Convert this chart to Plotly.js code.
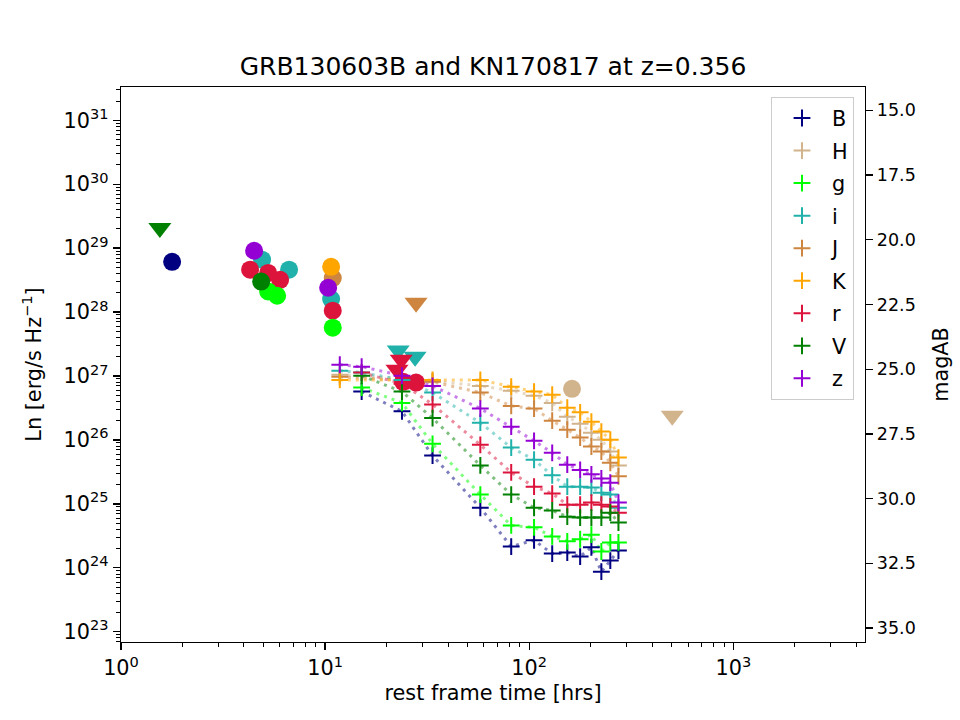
<!DOCTYPE html>
<html>
<head>
<meta charset="utf-8">
<script src="https://cdn.plot.ly/plotly-3.0.1.min.js"></script>
<style>
  html, body { margin: 0; padding: 0; background: #fff; }
  #chart { width: 960px; height: 720px; }
</style>
</head>
<body>
<div id="chart"></div>
<script>
// ---- KN170817 light curves shifted to z=0.356 (rest-frame hours) ----
const knTime = [11.8, 15.1, 23.8, 33.6, 57.6, 81.6, 105.6, 129.6, 153.6, 177.6, 201.6, 225.6, 249.6, 273.6];
// luminosity density Ln [erg/s/Hz] per band; null = no observation at that epoch
const knB = [null, 5.7e26, 2.8e26, 5.7e25, 8.7e24, 2.15e24, 2.7e24, 1.67e24, 1.73e24, 1.5e24, 2.1e24, 8.7e23, 1.3e24, 1.86e24];
const knH = [1.05e27, null, null, 8.4e26, 7.0e26, 5.9e26, 4.9e26, 3.8e26, 2.3e26, 1.8e26, 1.3e26, 1.01e26, 6.6e25, 4.0e25];
const knG = [null, 6.6e26, 3.8e26, 8.7e25, 1.4e25, 4.6e24, 4.3e24, 3.1e24, 2.6e24, 2.8e24, 3.3e24, 1.8e24, 2.5e24, 2.5e24];
const knI = [1.21e27, 1.13e27, 8.7e26, 5.5e26, 1.86e26, 7.6e25, 4.9e25, 2.8e25, 1.86e25, 1.86e25, 1.8e25, 1.5e25, 1.4e25, 8.7e24];
const knJ = [9.7e26, null, null, 8.1e26, 5.5e26, 3.4e26, 3.1e26, 2.0e26, 1.45e26, 1.09e26, 7.9e25, 6.6e25, 4.4e25, 2.7e25];
const knK = [8.7e26, null, null, 8.7e26, 8.7e26, 6.8e26, 5.7e26, 5.1e26, 3.2e26, 2.7e26, 1.93e26, 1.35e26, 1.01e26, 5.3e25];
const knR = [null, 1.13e27, 7.6e26, 3.6e26, 8.4e25, 3.1e25, 1.86e25, 1.45e25, 9.7e24, 9.7e24, 1.05e25, 9.7e24, 9.1e24, 7.3e24];
const knV = [null, 1.01e27, 5.7e26, 2.2e26, 4.0e25, 1.4e25, 8.7e24, 7.9e24, 6.3e24, 6.1e24, 6.1e24, 6.1e24, 7.3e24, 5.1e24];
const knZ = [1.5e27, 1.4e27, 1.01e27, 7.0e26, 3.1e26, 1.61e26, 9.7e25, 6.3e25, 4.1e25, 3.4e25, 2.9e25, 2.5e25, 2.15e25, 1.05e25];

// ---- GRB130603B afterglow detections ----
const grbBand = ['B', 'i', 'i', 'z', 'r', 'r', 'r', 'g', 'g', 'V', 'J', 'K', 'i', 'z', 'r', 'g', 'r', 'r', 'H'];
const grbTime = [1.78, 4.91, 6.66, 4.49, 4.29, 5.26, 6.02, 5.26, 5.82, 4.86, 10.9, 10.7, 10.7, 10.35, 10.9, 10.9, 24.1, 27.9, 162];
const grbLum  = [6.1e28, 6.6e28, 4.6e28, 9.1e28, 4.6e28, 4.1e28, 3.2e28, 2.1e28, 1.8e28, 3.0e28, 3.4e28, 5.1e28, 1.6e28, 2.4e28, 1.05e28, 5.7e27, 8.1e26, 7.9e26, 6.3e26];
// ---- GRB130603B upper limits ----
const limBand = ['V', 'J', 'i', 'i', 'r', 'r', 'H'];
const limTime = [1.55, 27.9, 22.8, 27.6, 23.6, 22.5, 502];
const limLum  = [2.07e29, 1.4e28, 2.5e27, 2.0e27, 1.8e27, 1.25e27, 2.4e26];

// ---- legend order and axis ticks ----
const bands = ['B', 'H', 'g', 'i', 'J', 'K', 'r', 'V', 'z'];
const xTickVals = [1, 10, 100, 1000];
const xTickText = ['10<sup>0</sup>', '10<sup>1</sup>', '10<sup>2</sup>', '10<sup>3</sup>'];
const yTickVals = [1e23, 1e24, 1e25, 1e26, 1e27, 1e28, 1e29, 1e30, 1e31];
const yTickText = ['10<sup>23</sup>', '10<sup>24</sup>', '10<sup>25</sup>', '10<sup>26</sup>', '10<sup>27</sup>',
                   '10<sup>28</sup>', '10<sup>29</sup>', '10<sup>30</sup>', '10<sup>31</sup>'];
const magTickVals = [15.0, 17.5, 20.0, 22.5, 25.0, 27.5, 30.0, 32.5, 35.0];

// ---- styling ----
const bandColor = {
  B: '#000080', H: '#d2b48c', g: '#00ff00', i: '#20b2aa', J: '#cd853f',
  K: '#ffa500', r: '#dc143c', V: '#008000', z: '#9400d3'
};
const knSeries = { B: knB, H: knH, g: knG, i: knI, J: knJ, K: knK, r: knR, V: knV, z: knZ };
const FONT = 'DejaVu Sans, Liberation Sans, sans-serif';
const FS = 20.8;

function rgba(hex, a) {
  const n = parseInt(hex.slice(1), 16);
  return `rgba(${(n >> 16) & 255},${(n >> 8) & 255},${n & 255},${a})`;
}

// minor log ticks between decades
function minorTicks(lo, hi) {
  const out = [];
  for (let e = lo; e <= hi; e++) for (let m = 2; m <= 9; m++) out.push(m * Math.pow(10, e));
  return out;
}

const traces = [];

// dotted KN curves
bands.forEach(b => {
  traces.push({
    x: knTime, y: knSeries[b], type: 'scatter', mode: 'lines', connectgaps: true,
    line: { color: rgba(bandColor[b], 0.5), width: 3, dash: '3px,5px' },
    legendgroup: b, showlegend: false, hoverinfo: 'skip'
  });
});

// GRB detections
traces.push({
  x: grbTime, y: grbLum, type: 'scatter', mode: 'markers', showlegend: false,
  marker: { symbol: 'circle', size: 18, color: grbBand.map(b => bandColor[b]), line: { width: 0 } }
});
// GRB upper limits
traces.push({
  x: limTime, y: limLum, type: 'scatter', mode: 'markers', showlegend: false,
  marker: { symbol: 'triangle-down', size: 20, color: limBand.map(b => bandColor[b]), line: { width: 0 } }
});

// KN markers (legend entries)
bands.forEach(b => {
  traces.push({
    x: knTime, y: knSeries[b], type: 'scatter', mode: 'markers', name: b,
    legendgroup: b,
    marker: { symbol: 'cross-thin', size: 12, color: bandColor[b], line: { color: bandColor[b], width: 2 } }
  });
});

// carrier for the magnitude axis
traces.push({ x: [], y: [], yaxis: 'y2', type: 'scatter', mode: 'markers', showlegend: false, hoverinfo: 'skip' });

const axisCommon = {
  showgrid: false, zeroline: false, showline: true, linecolor: '#000', linewidth: 1.3,
  ticks: 'outside', ticklen: 7, tickwidth: 1.3, tickcolor: '#000',
  tickfont: { family: FONT, size: FS, color: '#000' }, automargin: false
};

const layout = {
  width: 960, height: 720,
  margin: { l: 121, r: 95, t: 87, b: 78 },
  paper_bgcolor: '#fff', plot_bgcolor: '#fff',
  font: { family: FONT, size: FS, color: '#000' },
  title: {
    text: 'GRB130603B and KN170817 at z=0.356',
    font: { family: FONT, size: 25, color: '#000' },
    x: 0.5, xref: 'paper', xanchor: 'center',
    y: 1 - 66 / 720, yref: 'container', yanchor: 'middle'
  },
  xaxis: Object.assign({}, axisCommon, {
    type: 'log', range: [0, 3.645], mirror: true,
    tickmode: 'array', tickvals: xTickVals, ticktext: xTickText,
    minor: { tickmode: 'array', tickvals: minorTicks(0, 3), ticks: 'outside', ticklen: 4, tickwidth: 1, tickcolor: '#000', showgrid: false },
    title: { text: 'rest frame time [hrs]', font: { family: FONT, size: FS, color: '#000' }, standoff: 6 }
  }),
  yaxis: Object.assign({}, axisCommon, {
    type: 'log', range: [22.84, 31.52], mirror: true,
    tickmode: 'array', tickvals: yTickVals, ticktext: yTickText,
    minor: { tickmode: 'array', tickvals: minorTicks(22, 31), ticks: 'outside', ticklen: 4, tickwidth: 1, tickcolor: '#000', showgrid: false },
    title: { text: 'Ln [erg/s Hz<sup>\u22121</sup>]', font: { family: FONT, size: FS, color: '#000' }, standoff: 16 }
  }),
  yaxis2: Object.assign({}, axisCommon, {
    overlaying: 'y', side: 'right', range: [35.54, 14.1],
    tickmode: 'array', tickvals: magTickVals, ticktext: magTickVals.map(v => v.toFixed(1)),
    tickfont: { family: FONT, size: 17.5, color: '#000' },
    title: { text: 'magAB', font: { family: FONT, size: FS, color: '#000' }, standoff: 18 }
  }),
  legend: {
    x: 1 - 11 / 744, xanchor: 'right', y: 1 - 10 / 555, yanchor: 'top',
    bgcolor: 'rgba(255,255,255,0.8)', bordercolor: '#cccccc', borderwidth: 1,
    font: { family: FONT, size: FS, color: '#000' },
    itemwidth: 50, tracegroupgap: 2.5, traceorder: 'grouped'
  },
  showlegend: true
};

Plotly.newPlot('chart', traces, layout, { displayModeBar: false, staticPlot: true });
</script>
</body>
</html>
